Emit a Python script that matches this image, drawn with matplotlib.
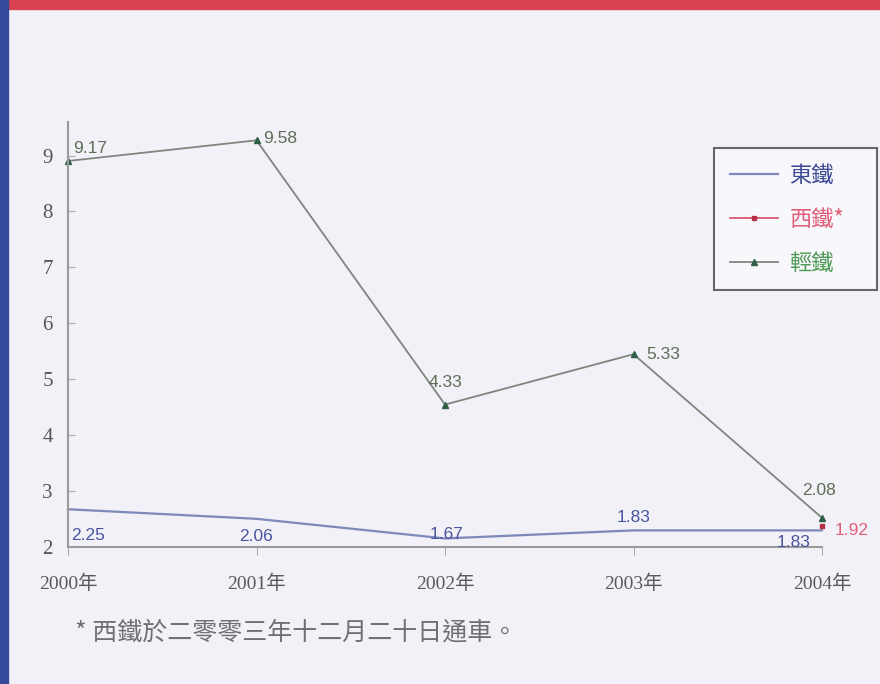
import matplotlib
matplotlib.use("Agg")
import matplotlib.pyplot as plt
from matplotlib.patches import Rectangle

# 數據
years = ["2000年", "2001年", "2002年", "2003年", "2004年"]
east_rail = [2.25, 2.06, 1.67, 1.83, 1.83]      # 東鐵
west_rail = [1.92]                              # 西鐵 (2004 only)
west_years = [4]
light_rail = [9.17, 9.58, 4.33, 5.33, 2.08]     # 輕鐵
y_tick_labels = [2, 3, 4, 5, 6, 7, 8, 9]
footnote = "* 西鐵於二零零三年十二月二十日通車。"

# the original axis is drawn offset: tick "k" sits where value (k - 0.65) / 0.9 is
def axis_pos(k):
    return (k - 0.65) / 0.9

cjk = ["Noto Sans CJK TC", "DejaVu Sans"]
serif = ["Liberation Serif", "Noto Sans CJK TC"]
sans = ["Liberation Sans", "DejaVu Sans"]

fig = plt.figure(figsize=(8.8, 6.84), dpi=100)
fig.patch.set_facecolor("#f1f1f7")
# 邊框
fig.add_artist(Rectangle((0, 1 - 9 / 684), 1, 9 / 684, transform=fig.transFigure,
                         color="#d8434f", zorder=0))
fig.add_artist(Rectangle((0, 0), 8 / 880, 1, transform=fig.transFigure,
                         color="#34499a", zorder=0))

ax = fig.add_axes([68 / 880, 137 / 684, (822 - 68) / 880, (547 - 122) / 684])
ax.set_facecolor("none")
x = list(range(len(years)))

l_east, = ax.plot(x, east_rail, color="#7f88bb", lw=1.6, label="東鐵", clip_on=False)
l_west, = ax.plot(west_years, west_rail, color="#d84a60", lw=1.2, marker="s", ms=3,
                  mfc="#b83045", mec="#b83045", label="西鐵*", clip_on=False)
l_light, = ax.plot(x, light_rail, color="#80867e", lw=1.3, marker="^", ms=4.5,
                   mfc="#2f5f45", mec="#2f5f45", label="輕鐵", clip_on=False)

ax.set_xlim(0, 4)
ax.set_ylim(axis_pos(2), axis_pos(9.6))
ax.set_xticks(x)
ax.set_xticklabels(years, family=serif, fontsize=14, color="#5a5a5a")
ax.set_yticks([axis_pos(k) for k in y_tick_labels])
ax.set_yticklabels([str(k) for k in y_tick_labels], family=serif, fontsize=15,
                   color="#555555")
ax.tick_params(axis="y", direction="in", length=5, color="#aaaaaa", pad=11)
ax.tick_params(axis="x", direction="out", length=6, color="#aaaaaa", pad=14)
for s in ["top", "right"]:
    ax.spines[s].set_visible(False)
for s in ["left", "bottom"]:
    ax.spines[s].set_color("#9a9a9a")
    ax.spines[s].set_linewidth(1.5)

# 數值標籤 (offsets in points)
fs = 12.5
light_off = [(4, 9, "left"), (5, 1, "left"), (0, 16, "center"), (9, 0, "left"), (-2, 20, "center")]
east_off = [(2, -19, "left"), (0, -13, "center"), (1, 3, "center"), (0, 9, "center"), (-8, -9, "right")]
for i, v in enumerate(light_rail):
    dx, dy, ha = light_off[i]
    ax.annotate(f"{v:.2f}", (x[i], v), xytext=(dx, dy), textcoords="offset points",
                ha=ha, va="center", fontsize=fs, family=sans, color="#5f6e57")
for i, v in enumerate(east_rail):
    dx, dy, ha = east_off[i]
    ax.annotate(f"{v:.2f}", (x[i], v), xytext=(dx, dy), textcoords="offset points",
                ha=ha, va="center", fontsize=fs, family=sans, color="#4a55a0")
for xi, v in zip(west_years, west_rail):
    ax.annotate(f"{v:.2f}", (xi, v), xytext=(9, -3), textcoords="offset points",
                ha="left", va="center", fontsize=fs, family=sans, color="#e0607a")

leg = ax.legend(handles=[l_east, l_west, l_light], loc="upper left",
                bbox_to_anchor=(714 / 880, (684 - 287) / 684, 163 / 880, 139 / 684),
                bbox_transform=fig.transFigure, mode="expand", prop={"family": cjk, "size": 16},
                frameon=True, fancybox=False, framealpha=1, facecolor="#f8f8fc",
                edgecolor="#666666", handlelength=2.2, labelspacing=0.95,
                borderpad=0.7, handletextpad=0.5, borderaxespad=0)
leg.get_frame().set_linewidth(1.5)
for t, c in zip(leg.get_texts(), ["#3f4a95", "#e0607a", "#4f9a55"]):
    t.set_color(c)

fig.text(75 / 880, 1 - 632 / 684, footnote, family=cjk, fontsize=18,
         color="#707070", va="center", ha="left")

fig.savefig("out.png", dpi=100, facecolor=fig.get_facecolor())
